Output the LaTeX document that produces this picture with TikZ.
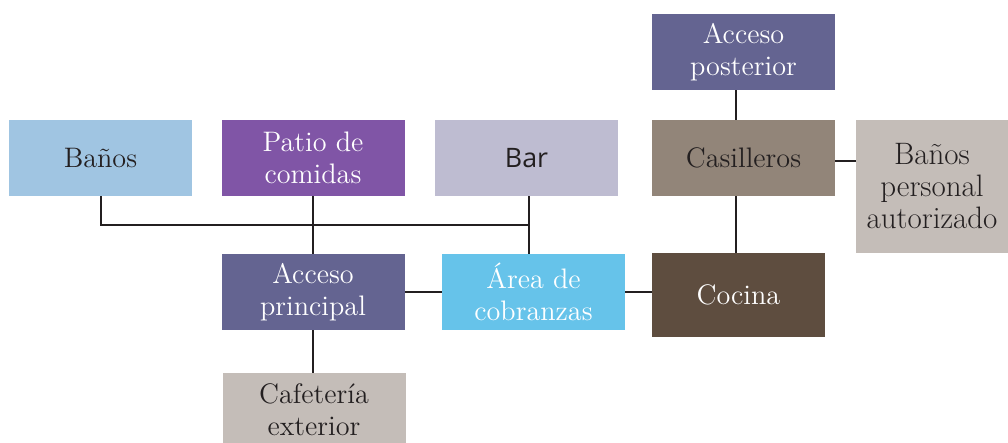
\documentclass[tikz,border=0pt]{standalone}
\usepackage{fontspec}
\newfontfamily\barfont{Open Sans}
\definecolor{cBanos}{HTML}{A0C5E2}
\definecolor{cPatio}{HTML}{8055A6}
\definecolor{cBar}{HTML}{BEBCD1}
\definecolor{cAcceso}{HTML}{646491}
\definecolor{cCasill}{HTML}{928579}
\definecolor{cGris}{HTML}{C4BDB8}
\definecolor{cArea}{HTML}{66C3EA}
\definecolor{cCocina}{HTML}{5E4D3F}
\definecolor{cTexto}{HTML}{231F20}
\begin{document}
\begin{tikzpicture}[x=0.5pt, y=-0.5pt,
    every node/.style={rectangle, minimum width=91.5pt, minimum height=38pt, inner sep=0pt, align=center, font=\fontsize{14.1}{16}\selectfont, text=cTexto},
    claro/.style={text=white},
    linea/.style={line width=1pt, draw=cTexto}]
        \useasboundingbox (0,0) rectangle (1008,443);
        \node[fill=cBanos] (banos) at (100.5, 158) {Baños};
        \node[fill=cPatio, claro] (patio) at (313, 158) {Patio de\\comidas};
        \node[fill=cBar, font=\barfont\fontsize{13.4}{16}\selectfont] (bar) at (526.5, 158) {Bar};
        \node[fill=cAcceso, claro] (accpost) at (743.5, 52) {Acceso\\posterior};
        \node[fill=cCasill] (casill) at (743.5, 158) {Casilleros};
        \node[fill=cGris, minimum width=76pt, minimum height=66.5pt, font=\fontsize{15.5}{16}\selectfont] (banosp) at (932, 186.5) {Baños\\personal\\autorizado};
        \node[fill=cAcceso, claro] (accprin) at (313, 292) {Acceso\\principal};
        \node[fill=cArea, claro] (area) at (533.5, 292) {Área de\\cobranzas};
        \node[fill=cCocina, claro, minimum width=86.5pt, minimum height=42pt] (cocina) at (738.5, 295) {Cocina};
        \node[fill=cGris, minimum height=37pt] (cafe) at (314, 410) {Cafetería\\exterior};
        \coordinate (jn) at (529, 225);
        \draw[linea] (banos.south) |- (jn);
        \draw[linea] (jn |- bar.south) -- (jn |- area.north);
        \draw[linea] (patio.south) -- (accprin.north);
        \draw[linea] (accprin.east) -- (accprin.east -| area.west);
        \draw[linea] (area.east) -- (area.east -| cocina.west);
        \draw[linea] (accprin.south) -- (cafe.north -| accprin.south);
        \draw[linea] (accpost.south -| 736, 0) -- (casill.north -| 736, 0);
        \draw[linea] (casill.south -| 736, 0) -- (cocina.north -| 736, 0);
        \draw[linea] (casill.east) ++(0, 3) -- (banosp.west |- 0, 161);
    \end{tikzpicture}
\end{document}
